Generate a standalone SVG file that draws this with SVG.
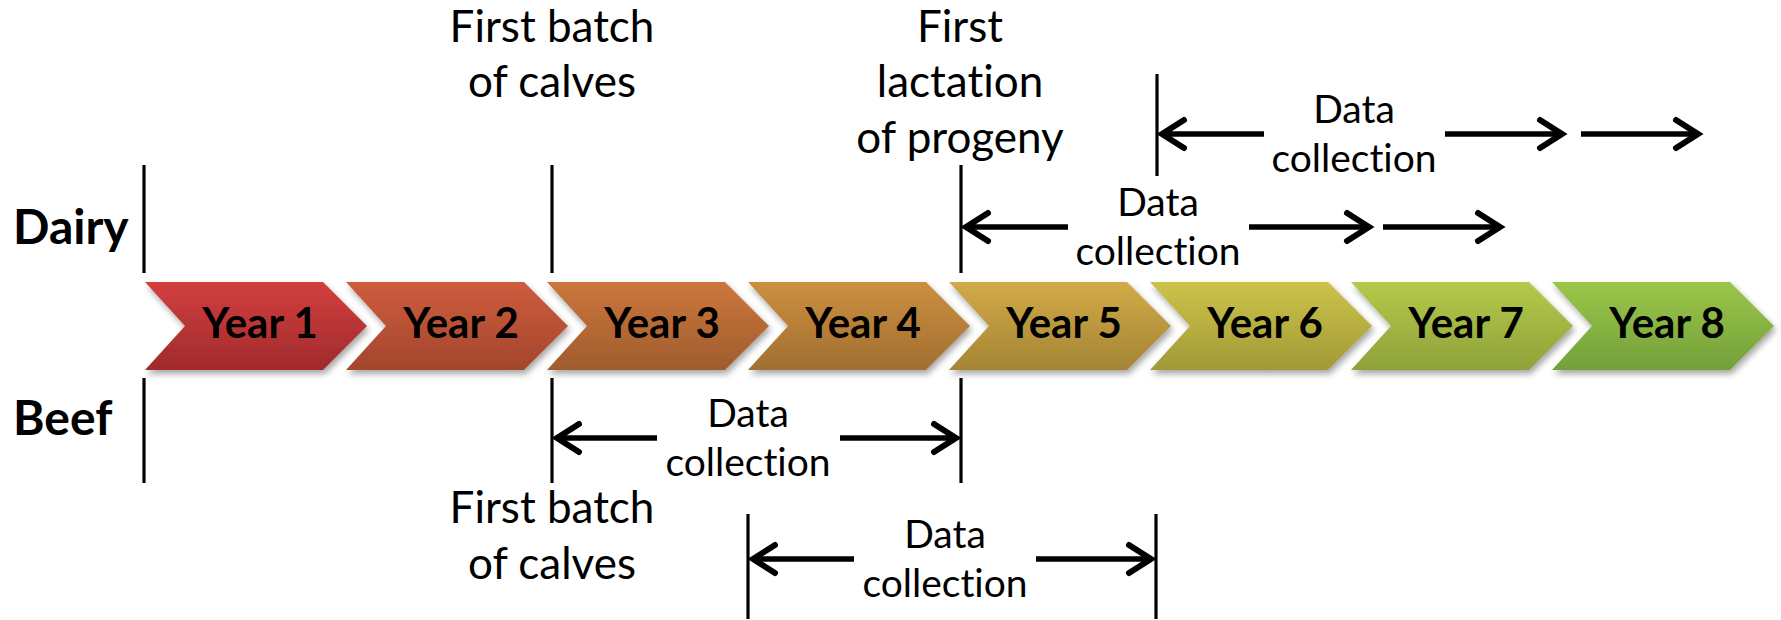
<svg xmlns="http://www.w3.org/2000/svg" width="1781" height="620" viewBox="0 0 1781 620">
  <defs>
    <style>
      text { font-variant-ligatures: none; font-feature-settings: "liga" 0; }
      .lbl { font-family: Lato, "Liberation Sans", sans-serif; font-size: 44px; fill: #000; text-anchor: middle; }
      .dc { font-family: Lato, "Liberation Sans", sans-serif; font-size: 39px; fill: #000; text-anchor: middle; }
      .row { font-family: Lato, "Liberation Sans", sans-serif; font-size: 48px; font-weight: bold; fill: #000; }
      .yr { font-family: Lato, "Liberation Sans", sans-serif; font-size: 42px; font-weight: bold; fill: #000; text-anchor: middle; }
      .tick { stroke: #000; stroke-width: 3.2; }
      .arr { stroke: #000; stroke-width: 5.5; fill: none; marker-end: url(#head); }
    </style>
    <marker id="head" markerUnits="userSpaceOnUse" markerWidth="40" markerHeight="40" viewBox="-30 -20 40 40" refX="0" refY="0" orient="auto" overflow="visible">
      <path d="M-22,-14 L0,0 L-22,14" fill="none" stroke="#000" stroke-width="6" stroke-linecap="round" stroke-linejoin="miter"/>
    </marker>
    <filter id="shadow" x="-10%" y="-20%" width="130%" height="150%">
      <feDropShadow dx="2" dy="4" stdDeviation="3" flood-color="#000" flood-opacity="0.35"/>
    </filter>
    <path id="chev" d="M0,0 H178 L222,44 L178,88 H0 L40,44 Z"/>
    <linearGradient id="g1" x1="0" y1="0" x2="0" y2="1"><stop offset="0" stop-color="#d23f3f"/><stop offset="1" stop-color="#a12a2b"/></linearGradient>
    <linearGradient id="g2" x1="0" y1="0" x2="0" y2="1"><stop offset="0" stop-color="#cf5c3e"/><stop offset="1" stop-color="#a3462c"/></linearGradient>
    <linearGradient id="g3" x1="0" y1="0" x2="0" y2="1"><stop offset="0" stop-color="#cc773c"/><stop offset="1" stop-color="#a05c2d"/></linearGradient>
    <linearGradient id="g4" x1="0" y1="0" x2="0" y2="1"><stop offset="0" stop-color="#cd8f40"/><stop offset="1" stop-color="#a16f30"/></linearGradient>
    <linearGradient id="g5" x1="0" y1="0" x2="0" y2="1"><stop offset="0" stop-color="#d2aa48"/><stop offset="1" stop-color="#a48534"/></linearGradient>
    <linearGradient id="g6" x1="0" y1="0" x2="0" y2="1"><stop offset="0" stop-color="#ccc349"/><stop offset="1" stop-color="#a19a37"/></linearGradient>
    <linearGradient id="g7" x1="0" y1="0" x2="0" y2="1"><stop offset="0" stop-color="#b5ca4a"/><stop offset="1" stop-color="#8ea13a"/></linearGradient>
    <linearGradient id="g8" x1="0" y1="0" x2="0" y2="1"><stop offset="0" stop-color="#9bc649"/><stop offset="1" stop-color="#73a03a"/></linearGradient>
  </defs>

  <rect width="1781" height="620" fill="#fff"/>

  <!-- row labels -->
  <g id="label-dairy"><text class="row" x="13" y="244">Dairy</text></g>
  <g id="label-beef"><text class="row" x="13" y="435">Beef</text></g>

  <!-- year chevrons -->
  <g id="year-1" transform="translate(145,282)"><use href="#chev" fill="url(#g1)" filter="url(#shadow)"/><text class="yr" x="115" y="56">Year 1</text></g>
  <g id="year-2" transform="translate(346,282)"><use href="#chev" fill="url(#g2)" filter="url(#shadow)"/><text class="yr" x="115" y="56">Year 2</text></g>
  <g id="year-3" transform="translate(547,282)"><use href="#chev" fill="url(#g3)" filter="url(#shadow)"/><text class="yr" x="115" y="56">Year 3</text></g>
  <g id="year-4" transform="translate(748,282)"><use href="#chev" fill="url(#g4)" filter="url(#shadow)"/><text class="yr" x="115" y="56">Year 4</text></g>
  <g id="year-5" transform="translate(949,282)"><use href="#chev" fill="url(#g5)" filter="url(#shadow)"/><text class="yr" x="115" y="56">Year 5</text></g>
  <g id="year-6" transform="translate(1150,282)"><use href="#chev" fill="url(#g6)" filter="url(#shadow)"/><text class="yr" x="115" y="56">Year 6</text></g>
  <g id="year-7" transform="translate(1351,282)"><use href="#chev" fill="url(#g7)" filter="url(#shadow)"/><text class="yr" x="115" y="56">Year 7</text></g>
  <g id="year-8" transform="translate(1552,282)"><use href="#chev" fill="url(#g8)" filter="url(#shadow)"/><text class="yr" x="115" y="56">Year 8</text></g>

  <!-- milestone notes -->
  <g id="note-dairy-calves">
    <text class="lbl" x="552" y="42">First batch</text>
    <text class="lbl" x="552" y="97">of calves</text>
  </g>
  <g id="note-lactation">
    <text class="lbl" x="960" y="42">First</text>
    <text class="lbl" x="960" y="97">lactation</text>
    <text class="lbl" x="960" y="153">of progeny</text>
  </g>
  <g id="note-beef-calves">
    <text class="lbl" x="552" y="523">First batch</text>
    <text class="lbl" x="552" y="579">of calves</text>
  </g>

  <!-- data collection labels -->
  <g id="dc-dairy-top"><text class="dc" x="1354" y="123">Data</text><text class="dc" x="1354" y="172">collection</text></g>
  <g id="dc-dairy-mid"><text class="dc" x="1158" y="216">Data</text><text class="dc" x="1158" y="265">collection</text></g>
  <g id="dc-beef-mid"><text class="dc" x="748" y="427">Data</text><text class="dc" x="748" y="476">collection</text></g>
  <g id="dc-beef-low"><text class="dc" x="945" y="548">Data</text><text class="dc" x="945" y="597">collection</text></g>

  <!-- markers and connectors -->
  <g id="connectors">
    <line class="tick" x1="144" y1="165" x2="144" y2="273"/>
    <line class="tick" x1="144" y1="378" x2="144" y2="483"/>
    <line class="tick" x1="552" y1="165" x2="552" y2="273"/>
    <line class="tick" x1="552" y1="378" x2="552" y2="483"/>
    <line class="tick" x1="961" y1="165" x2="961" y2="273"/>
    <line class="tick" x1="961" y1="378" x2="961" y2="483"/>
    <line class="tick" x1="1157" y1="74" x2="1157" y2="176"/>
    <line class="tick" x1="748" y1="514" x2="748" y2="619"/>
    <line class="tick" x1="1156" y1="514" x2="1156" y2="619"/>

    <line class="arr" x1="1264" y1="134" x2="1162" y2="134"/>
    <line class="arr" x1="1445" y1="134" x2="1562" y2="134"/>
    <line class="arr" x1="1581" y1="134" x2="1698" y2="134"/>

    <line class="arr" x1="1068" y1="227" x2="966" y2="227"/>
    <line class="arr" x1="1249" y1="227" x2="1369" y2="227"/>
    <line class="arr" x1="1383" y1="227" x2="1500" y2="227"/>

    <line class="arr" x1="657" y1="438" x2="557" y2="438"/>
    <line class="arr" x1="840" y1="438" x2="956" y2="438"/>

    <line class="arr" x1="854" y1="559" x2="753" y2="559"/>
    <line class="arr" x1="1036" y1="559" x2="1151" y2="559"/>
  </g>
</svg>
